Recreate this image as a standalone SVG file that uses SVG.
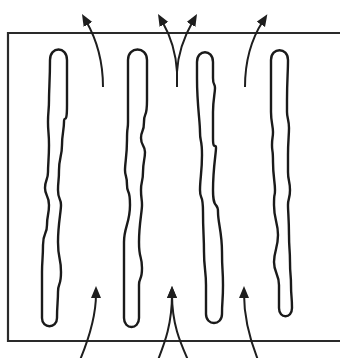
<svg xmlns="http://www.w3.org/2000/svg" width="340" height="358" viewBox="0 0 340 358">
  <style>
    .box{fill:none;stroke:#2a2a2a;stroke-width:2.2}
    .fin{fill:none;stroke:#1a1a1a;stroke-width:2.4;stroke-linejoin:round}
    .flow{fill:none;stroke:#1e1e1e;stroke-width:2}
  </style>
  <defs>
    <marker id="ah" markerUnits="userSpaceOnUse" markerWidth="14" markerHeight="12" refX="4" refY="5" orient="auto">
      <path d="M0,0 L12,5 L0,10 z" fill="#1e1e1e"/>
    </marker>
  </defs>
  <rect width="340" height="358" fill="#ffffff"/>
  <g id="enclosure">
    <path class="box" d="M345,33 H8 V341 H345"/>
  </g>
  <g id="fin1">
    <path class="fin" d="M50,60 C50,46 67,46 67,60 S67,83 67,105 S64,114 64,122 S62,134 62,145 S59,158 59,170 S58,180 58,190 S61,198 61,205 S58,224 58,242 S61,257 61,272 S58,282 58,292 S57,305 57,318 C57,329 42,329 42,318 S42,306 42,295 S42,283 42,272 S43,258 43,245 S47,235 47,225 S49,215 49,205 S45,196 45,188 S48,180 48,172 S49,158 49,145 S48,133 48,122 S49,111 49,100 S50,80 50,60 Z"/>
  </g>
  <g id="fin2">
    <path class="fin" d="M128,60 C128,46 147,46 147,60 S147,80 147,100 S144,111 144,122 S141,130 141,138 S145,145 145,152 S143,162 143,172 S141,181 141,190 S142,198 142,205 S139,224 139,242 S142,255 142,268 S139,277 139,285 S139,302 139,318 C139,330 124,330 124,318 S124,306 124,295 S124,283 124,272 S124,257 124,242 S130,223 130,205 S127,195 127,185 S125,177 125,170 S127,155 127,140 S128,131 128,122 S128,91 128,60 Z"/>
  </g>
  <g id="fin3">
    <path class="fin" d="M197,62 C197,49 213,49 213,62 S213,70 213,78 S215,83 215,88 S213,100 213,112 S213,125 213,138 S216,143 216,148 S213,169 213,190 S218,201 218,212 S222,232 222,252 S223,268 223,285 S222,300 222,314 C222,326 206,326 206,314 S206,299 206,285 S204,268 204,252 S203,232 203,212 S200,201 200,190 S202,172 202,155 S200,143 200,132 S197,105 197,78 S197,70 197,62 Z"/>
  </g>
  <g id="fin4">
    <path class="fin" d="M271,60 C271,47 288,47 288,60 S287,80 287,100 S287,106 287,112 S289,120 289,128 S288,141 288,155 S288,163 288,172 S290,181 290,190 S288,198 288,205 S289,220 289,235 S290,248 290,262 S291,273 291,285 S292,296 292,308 C292,319 279,319 279,308 S279,296 279,285 S274,273 274,262 S278,248 278,235 S274,220 274,205 S275,198 275,190 S273,176 273,162 S272,153 272,145 S273,138 273,132 S271,122 271,112 S271,86 271,60 Z"/>
  </g>
  <g id="connectors">
    <path class="flow" marker-end="url(#ah)" d="M103,87 C103,60 97,40 86,21"/>
    <path class="flow" marker-end="url(#ah)" d="M177,87 L177,72 C176,52 170,35 162,21"/>
    <path class="flow" marker-end="url(#ah)" d="M177,87 L177,72 C178,52 185,35 193,21"/>
    <path class="flow" marker-end="url(#ah)" d="M245,87 C245,60 252,38 263,21"/>
    <path class="flow" marker-end="url(#ah)" d="M80,360 C90,336 96,316 96,294"/>
    <path class="flow" marker-end="url(#ah)" d="M158,360 C165,342 172,324 172,294"/>
    <path class="flow" marker-end="url(#ah)" d="M188,360 C180,342 172,324 172,294"/>
    <path class="flow" marker-end="url(#ah)" d="M258,360 C250,340 244,316 244,294"/>
  </g>
</svg>
